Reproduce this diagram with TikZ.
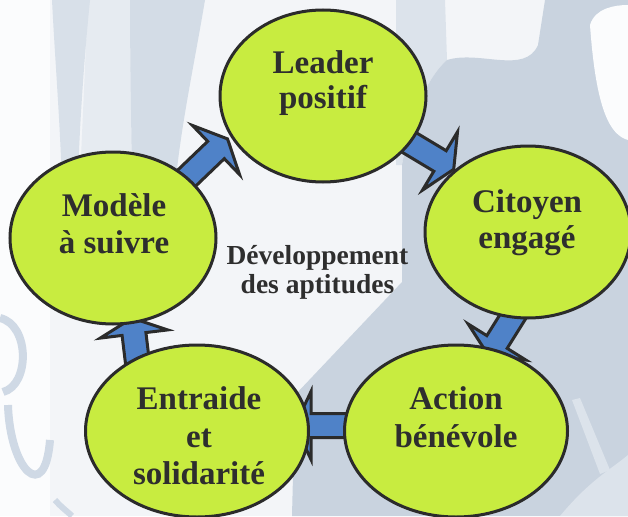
\documentclass[tikz,border=0pt]{standalone}
\usepackage{fontspec}
\setmainfont{Liberation Serif}
\usetikzlibrary{shapes.geometric}
\definecolor{bgbase}{HTML}{F3F5F8}
\definecolor{bgwhite}{HTML}{FBFCFD}
\definecolor{wmband}{HTML}{D8E0E9}
\definecolor{wmbandb}{HTML}{D3DCE6}
\definecolor{wmmid}{HTML}{E6EBF1}
\definecolor{wmgray}{HTML}{C9D3DF}
\definecolor{wmlight}{HTML}{DCE3EB}
\definecolor{wmarc}{HTML}{CFD9E5}
\definecolor{lime}{HTML}{C8EC40}
\definecolor{ink}{HTML}{2B2B2B}
\definecolor{arrowblue}{HTML}{4F82C8}
\definecolor{txt}{HTML}{2E2E2E}
\tikzset{
  bub/.style={ellipse, draw=ink, fill=lime, line width=3pt, inner sep=0pt, outer sep=0pt},
  topbub/.style={bub, minimum width=206, minimum height=172},
  lowbub/.style={bub, minimum width=223, minimum height=172},
  barrow/.style={draw=ink, fill=arrowblue, line width=3pt, line join=miter, miter limit=10},
  big/.style={anchor=base, inner sep=0pt, text=txt, font=\fontsize{33}{36}\selectfont\bfseries},
  mid/.style={anchor=base, inner sep=0pt, text=txt, font=\fontsize{27.5}{30}\selectfont\bfseries}
}
\newcommand\blockarr[3]{%
  \begin{scope}[shift={(#1)}, rotate=#2]
    \draw[barrow] (-#3,-12) -- (0,-12) -- (0,-34) -- (16,0) -- (0,34) -- (0,12) -- (-#3,12) -- cycle;
  \end{scope}}
\begin{document}
\begin{tikzpicture}[x=1pt, y=-1pt]
  \useasboundingbox (0,0) rectangle (628,516);
  \clip (0,0) rectangle (628,516);
  % background watermark
  \fill[bgbase] (0,0) rectangle (628,516);
  \fill[bgwhite] (0,0) rectangle (50,516);
  \fill[wmmid] (88,0) -- (130,0) -- (132,180) -- (80,180) -- cycle;
  \fill[wmband] (52,0) -- (90,0) .. controls (84,60) and (80,120) .. (78,175) -- (62,185) .. controls (60,120) and (55,60) .. (52,0) -- cycle;
  \fill[wmbandb] (130,0) -- (205,0) .. controls (195,60) and (182,120) .. (176,178) -- (132,178) .. controls (131,110) and (130,50) .. (130,0) -- cycle;
  \fill[wmlight] (396,0) -- (445,0) -- (447,60) .. controls (425,80) and (410,120) .. (402,165) -- (396,165) -- cycle;
  \fill[wmgray] (447,60) .. controls (480,50) and (525,75) .. (538,45) -- (545,0) -- (628,0) -- (628,516) -- (292,516) -- (295,395) -- (402,282) -- (402,165) .. controls (410,120) and (425,80) .. (447,60) -- cycle;
  \fill[bgwhite] (590,25) .. controls (595,8) and (615,5) .. (628,5) -- (628,140) .. controls (610,135) and (596,110) .. (590,25) -- cycle;
  \fill[wmlight] (572,400) -- (580,398) -- (610,470) -- (600,474) -- cycle;
  \fill[wmlight] (560,516) .. controls (590,480) and (610,470) .. (628,455) -- (628,516) -- cycle;
  \draw[wmarc, line width=8pt] (0,318) .. controls (30,325) and (30,385) .. (3,392);
  \draw[wmarc, line width=8pt] (8,405) .. controls (10,470) and (45,505) .. (50,440);
  \draw[wmarc, line width=6pt] (55,500) .. controls (62,508) and (68,512) .. (72,516);
  % arrow anchor points
  \coordinate (h1) at (216,150);
  \coordinate (h2) at (440,161);
  \coordinate (h3) at (497,342);
  \coordinate (h4) at (311,425.5);
  \coordinate (h5) at (134,334);
  \blockarr{h1}{43.8}{55}
  \blockarr{h2}{-31}{50}
  \blockarr{h3}{238}{50}
  \blockarr{h4}{180}{50}
  \blockarr{h5}{96.9}{45}
  % ellipses
  \node[topbub] (leader) at (323,96) {};
  \node[topbub] (citoyen) at (528,232) {};
  \node[topbub] (modele) at (113,238) {};
  \node[lowbub] (action) at (456,431) {};
  \node[lowbub] (entraide) at (197,431) {};
  % texts
  \node[big] (t1a) at (323,74) {Leader};
  \node[big] (t1b) at (323,109) {positif};
  \node[big] (t2a) at (527,212) {Citoyen};
  \node[big] (t2b) at (527,248) {engagé};
  \node[big] (t3a) at (456,409) {Action};
  \node[big] (t3b) at (456,447) {bénévole};
  \node[big] (t4a) at (199,409) {Entraide};
  \node[big] (t4b) at (199,447) {et};
  \node[big] (t4c) at (199,484) {solidarité};
  \node[big] (t5a) at (114,216) {Modèle};
  \node[big] (t5b) at (114,253) {à suivre};
  \node[mid] (c1) at (317.5,264) {Développement};
  \node[mid] (c2) at (317.5,293) {des aptitudes};
\end{tikzpicture}
\end{document}
